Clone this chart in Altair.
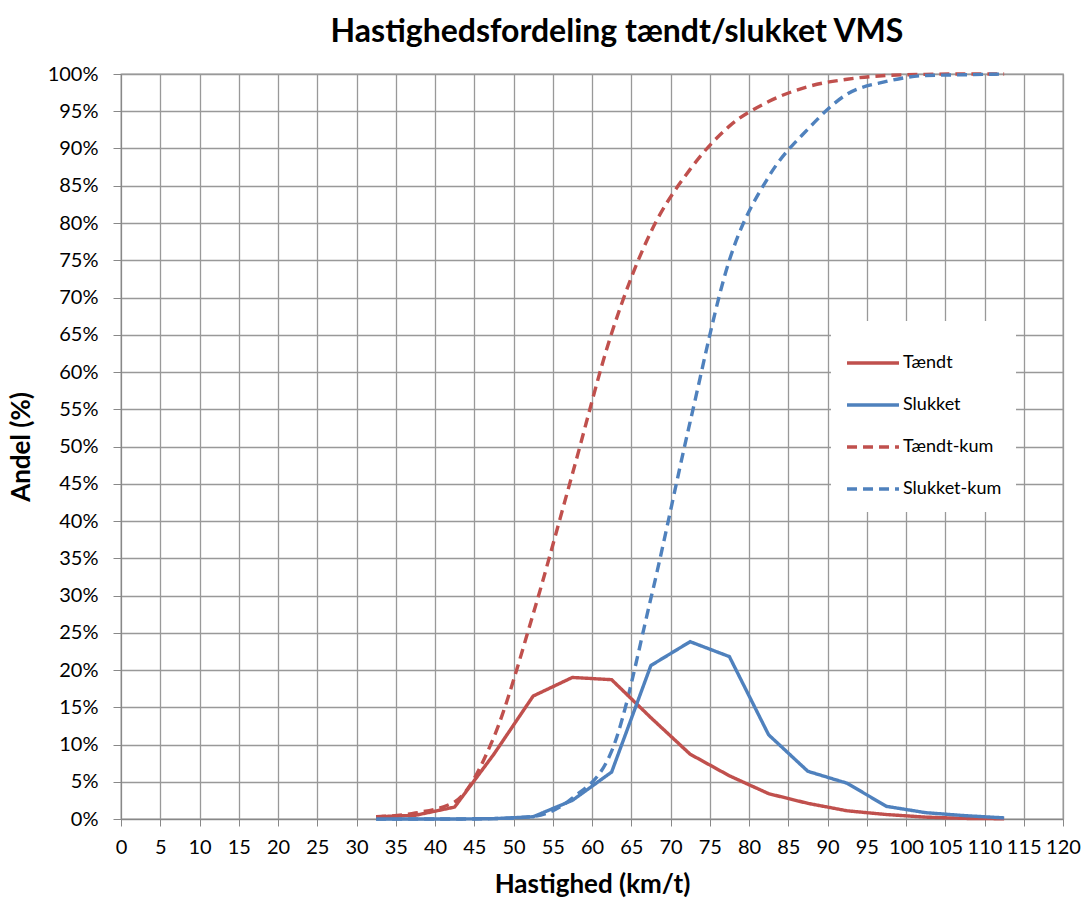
import altair as alt
import pandas as pd

speed = [32.5, 37.5, 42.5, 47.5, 52.5, 57.5, 62.5, 67.5, 72.5, 77.5,
         82.5, 87.5, 92.5, 97.5, 102.5, 107.5, 112.5]
taendt = [0.3, 0.5, 1.6, 8.7, 16.5, 19.0, 18.7, 13.6, 8.7, 5.8,
          3.4, 2.1, 1.1, 0.6, 0.25, 0.08, 0.03]
slukket = [0.0, 0.0, 0.0, 0.05, 0.3, 2.5, 6.3, 20.6, 23.8, 21.8,
           11.3, 6.4, 4.8, 1.7, 0.85, 0.45, 0.15]
taendt_kum = [0.3, 0.8, 2.3, 11.0, 27.5, 46.3, 65.2, 78.8, 87.2, 93.0,
              96.3, 98.3, 99.3, 99.8, 99.95, 100.0, 100.0]
slukket_kum = [0.0, 0.0, 0.0, 0.05, 0.35, 2.8, 9.1, 29.6, 53.3, 75.0,
               86.2, 92.6, 97.3, 99.0, 99.8, 99.9, 100.0]
series_names = ["Tændt", "Slukket", "Tændt-kum", "Slukket-kum"]
series_colors = ["#C0504D", "#4F81BD", "#C0504D", "#4F81BD"]
x_ticks = list(range(0, 125, 5))
y_ticks = [i / 100 for i in range(0, 105, 5)]

rows = []
for name, vals in zip(series_names, [taendt, slukket, taendt_kum, slukket_kum]):
    for s, v in zip(speed, vals):
        rows.append({"Hastighed": s, "Andel": v / 100, "Serie": name,
                     "kum": name.endswith("-kum")})
df = pd.DataFrame(rows)

FONT = "Lato"

x_enc = alt.X("Hastighed:Q",
              scale=alt.Scale(domain=[0, 120], nice=False, zero=True),
              axis=alt.Axis(values=x_ticks, title="Hastighed (km/t)", format="d",
                            labelFontSize=20, titleFontSize=26, titleFontWeight="bold",
                            titlePadding=14, labelPadding=11, tickSize=7,
                            labelFlush=False))
y_enc = alt.Y("Andel:Q",
              scale=alt.Scale(domain=[0, 1], nice=False),
              axis=alt.Axis(values=y_ticks, format=".0%", title="Andel (%)",
                            labelFontSize=20, titleFontSize=26, titleFontWeight="bold",
                            titlePadding=13, labelPadding=15, tickSize=8))
legend_kw = dict(title=None, orient="none", legendX=710, legendY=247,
                 fillColor="white", padding=14,
                 symbolType="stroke", symbolSize=2700,
                 symbolStrokeWidth=3.5, labelFontSize=18,
                 rowPadding=5, labelOffset=2)
color_enc = alt.Color("Serie:N",
                      scale=alt.Scale(domain=series_names, range=series_colors),
                      legend=alt.Legend(**legend_kw))
dash_enc = alt.StrokeDash("Serie:N",
                          scale=alt.Scale(domain=series_names,
                                          range=[[1, 0], [1, 0], [10, 6], [10, 6]]),
                          legend=alt.Legend(**legend_kw))

base = alt.Chart(df)
solid = base.transform_filter("!datum.kum").mark_line(strokeWidth=3.4).encode(
    x=x_enc, y=y_enc, color=color_enc, strokeDash=dash_enc, detail="Serie:N")
dashed = base.transform_filter("datum.kum").mark_line(strokeWidth=3.4, interpolate="monotone").encode(
    x=x_enc, y=y_enc, color=color_enc, strokeDash=dash_enc, detail="Serie:N")

chart = alt.layer(dashed, solid).properties(
    width=942, height=745,
    background="white",
    title=alt.TitleParams("Hastighedsfordeling tændt/slukket VMS", fontSize=32,
                          fontWeight="bold", font=FONT, anchor="middle", dx=25, offset=15),
    autosize=alt.AutoSizeParams(type="none"),
    padding={"left": 121, "top": 74, "right": 23, "bottom": 81},
).configure_view(stroke="#999999", strokeWidth=1.3).configure_axis(
    gridColor="#999999", gridWidth=1.3, domainColor="#888888", tickColor="#888888",
    labelFont=FONT, titleFont=FONT, labelColor="black", titleColor="black"
).configure_legend(labelFont=FONT, labelColor="black")

chart.save("out.html", embed_options={"renderer": "svg", "actions": False})
